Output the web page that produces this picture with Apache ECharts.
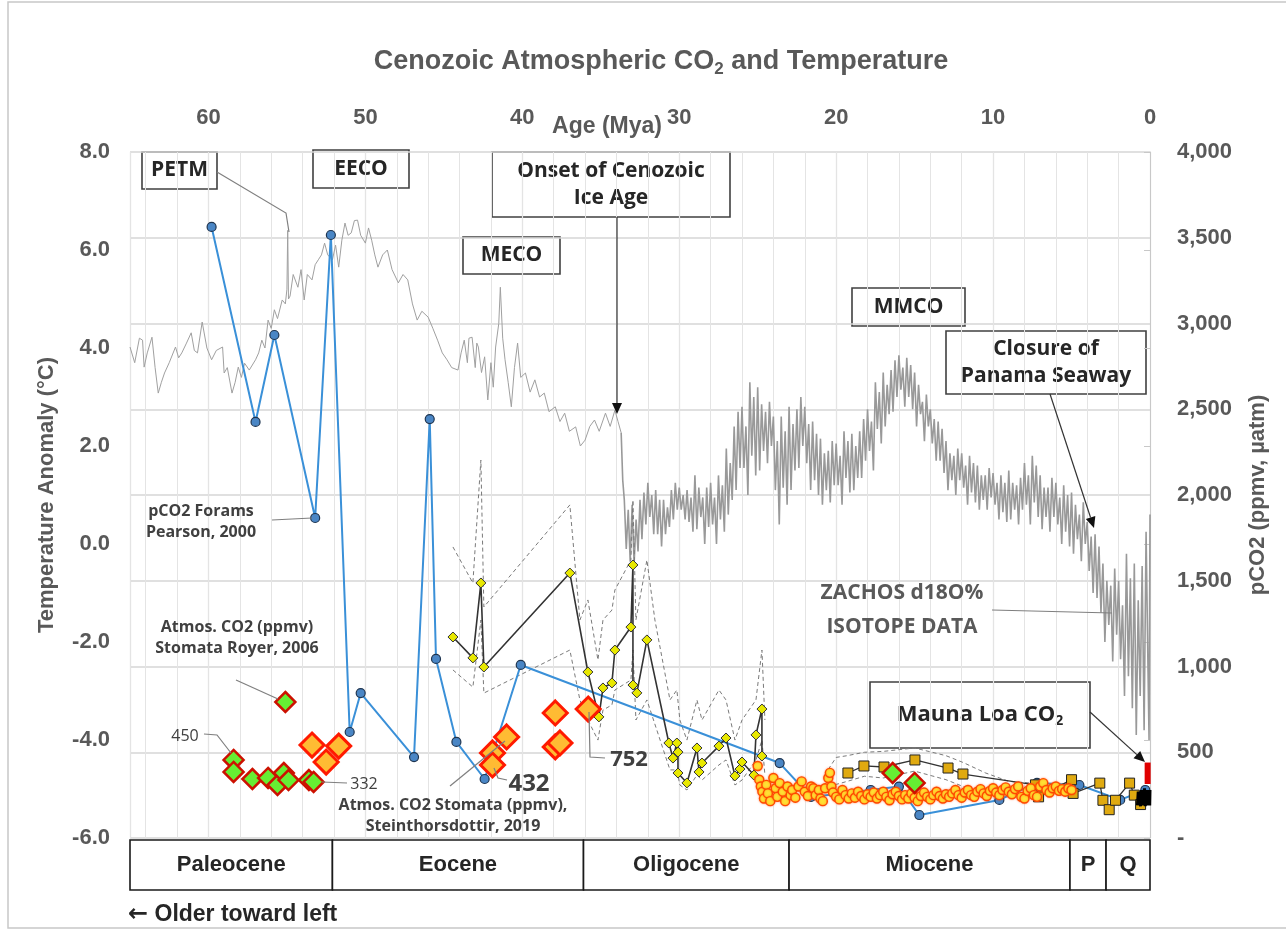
<!DOCTYPE html>
<html><head><meta charset="utf-8">
<script src="https://cdn.jsdelivr.net/npm/echarts@6/dist/echarts.min.js"></script>
<style>html,body{margin:0;padding:0;background:#fff}#c{width:1286px;height:931px}</style>
</head><body><div id="c"></div><script>
// ---------- DATA ----------
const epochNames = ['Paleocene','Eocene','Oligocene','Miocene','P','Q'];
const epochStart = [65, 52.1, 36.1, 23, 5.1, 2.8];
const epochEnd   = [52.1, 36.1, 23, 5.1, 2.8, 0];

// Zachos d18O-derived temperature anomaly, older part [age Mya, °C]
const zachosOld = [[65.0,4.02],[64.7,3.7],[64.4,4.2],[64.2,4.16],[64.1,3.61],[63.9,3.9],[63.6,4.22],[63.4,3.6],[63.2,3.08],[63.0,3.3],[62.8,3.49],[62.5,3.7],[62.1,4.02],[61.9,3.8],[61.7,3.90],[61.4,4.1],[61.1,4.31],[60.9,3.95],[60.7,3.90],[60.4,4.53],[60.1,4.0],[59.8,3.76],[59.5,3.95],[59.1,4.02],[59.0,3.49],[58.8,3.6],[58.5,3.08],[58.3,3.3],[58.1,3.61],[57.9,3.4],[57.7,3.69],[57.4,3.55],[57.0,3.76],[56.8,3.9],[56.6,4.16],[56.4,4.0],[56.2,4.57],[56.0,4.4],[55.8,4.78],[55.6,4.6],[55.3,4.98],[55.1,4.9],[55.0,5.2],[54.95,6.4],[54.9,5.0],[54.8,5.06],[54.6,5.5],[54.3,5.24],[54.1,5.6],[53.9,4.98],[53.7,5.5],[53.4,5.39],[53.2,5.7],[53.0,5.80],[52.8,5.9],[52.6,6.14],[52.4,5.9],[52.1,5.80],[51.9,6.1],[51.7,5.65],[51.5,6.2],[51.3,6.55],[51.1,6.3],[50.9,6.35],[50.7,6.6],[50.5,6.61],[50.3,6.3],[50.0,6.14],[49.8,6.45],[49.6,6.20],[49.4,5.9],[49.2,5.65],[48.9,5.9],[48.6,6.00],[48.3,5.6],[47.9,5.33],[47.6,5.5],[47.3,5.39],[47.0,4.9],[46.7,4.57],[46.4,4.75],[46.0,4.63],[45.7,4.4],[45.4,4.16],[45.1,3.9],[44.8,3.76],[44.5,3.6],[44.1,3.55],[43.9,3.9],[43.7,4.16],[43.5,3.7],[43.4,4.2],[43.2,4.22],[43.0,3.6],[42.9,4.1],[42.8,4.02],[42.6,3.5],[42.4,3.82],[42.2,2.94],[42.0,3.7],[41.85,3.2],[41.7,4.02],[41.5,4.5],[41.4,5.24],[41.25,4.2],[41.1,3.76],[40.9,3.3],[40.7,2.80],[40.5,3.6],[40.3,4.10],[40.1,3.4],[39.8,3.49],[39.5,3.1],[39.2,3.35],[38.9,3.0],[38.6,3.08],[38.3,2.7],[37.9,2.80],[37.6,2.5],[37.3,2.67],[37.0,2.3],[36.6,2.39],[36.3,2.0],[36.0,2.12],[35.7,2.4],[35.4,2.53],[35.1,2.3],[34.7,2.67],[34.4,2.4],[34.1,2.73],[33.9,2.5],[33.7,2.27]];
// Zachos, Oligocene to present (dense, noisy record) [age Mya, °C]
const zachosYoung = [[33.7,2.27],[33.6,1.3],[33.5,0.9],[33.375,-0.1],[33.25,0.7],[33.125,-0.35],[33.0,0.8],[32.875,-0.4],[32.75,0.5],[32.625,-0.15],[32.5,0.9],[32.375,0.1],[32.25,1.05],[32.125,0.4],[32.0,1.25],[31.875,0.55],[31.75,1.0],[31.625,0.2],[31.5,1.1],[31.375,0.2],[31.25,0.9],[31.125,-0.05],[31.0,0.9],[30.875,0.2],[30.75,0.75],[30.625,0.35],[30.5,1.1],[30.375,0.5],[30.25,1.25],[30.125,0.7],[30.0,1.15],[29.875,0.7],[29.75,1.0],[29.625,0.5],[29.5,1.1],[29.375,0.45],[29.25,0.95],[29.125,0.25],[29.0,1.4],[28.875,0.3],[28.75,1.15],[28.625,0.55],[28.5,0.95],[28.375,0.0],[28.25,1.15],[28.125,0.35],[28.0,1.25],[27.875,0.4],[27.75,0.95],[27.625,0.0],[27.5,1.4],[27.375,0.5],[27.25,1.2],[27.125,0.25],[27.0,1.95],[26.875,0.6],[26.75,1.65],[26.625,0.9],[26.5,2.4],[26.375,1.1],[26.25,2.7],[26.125,1.55],[26.0,2.8],[25.875,1.55],[25.75,2.4],[25.625,1.0],[25.5,3.3],[25.375,1.8],[25.25,3.0],[25.125,1.4],[25.0,3.2],[24.875,1.5],[24.75,2.85],[24.625,1.9],[24.5,2.7],[24.375,1.65],[24.25,2.9],[24.125,2.0],[24.0,2.6],[23.875,1.1],[23.75,2.1],[23.625,0.4],[23.5,2.6],[23.375,1.15],[23.25,2.3],[23.125,0.8],[23.0,2.8],[22.875,1.1],[22.75,2.45],[22.625,1.5],[22.5,2.75],[22.375,1.55],[22.25,3.0],[22.125,2.0],[22.0,2.8],[21.875,1.65],[21.75,2.45],[21.625,1.1],[21.5,2.5],[21.375,1.3],[21.25,2.25],[21.125,1.0],[21.0,2.15],[20.875,0.8],[20.75,1.85],[20.625,1.1],[20.5,1.9],[20.375,0.85],[20.25,2.1],[20.125,1.2],[20.0,2.05],[19.875,1.2],[19.75,1.8],[19.625,0.8],[19.5,2.3],[19.375,1.35],[19.25,2.1],[19.125,1.05],[19.0,2.25],[18.875,1.1],[18.75,2.0],[18.625,1.35],[18.5,2.3],[18.375,1.35],[18.25,2.55],[18.125,1.7],[18.0,2.75],[17.875,1.9],[17.75,2.5],[17.625,1.5],[17.5,3.3],[17.375,2.35],[17.25,3.1],[17.125,2.05],[17.0,3.5],[16.875,2.4],[16.75,3.25],[16.625,2.65],[16.5,3.55],[16.375,2.7],[16.25,3.75],[16.125,3.0],[16.0,3.85],[15.875,3.15],[15.75,3.6],[15.625,2.8],[15.5,3.8],[15.375,3.0],[15.25,3.65],[15.125,2.75],[15.0,3.5],[14.875,2.4],[14.75,3.25],[14.625,2.65],[14.5,2.9],[14.375,2.1],[14.25,3.05],[14.125,2.4],[14.0,2.75],[13.875,2.05],[13.75,2.55],[13.625,1.7],[13.5,2.5],[13.375,1.7],[13.25,2.35],[13.125,1.45],[13.0,2.1],[12.875,1.1],[12.75,1.85],[12.625,1.3],[12.5,1.8],[12.375,1.0],[12.25,1.95],[12.125,1.3],[12.0,1.85],[11.875,1.15],[11.75,1.6],[11.625,0.8],[11.5,1.8],[11.375,1.05],[11.25,1.65],[11.125,0.85],[11.0,1.6],[10.875,0.7],[10.75,1.4],[10.625,0.9],[10.5,1.4],[10.375,0.7],[10.25,1.55],[10.125,0.95],[10.0,1.45],[9.875,0.8],[9.75,1.25],[9.625,0.5],[9.5,1.4],[9.375,0.65],[9.25,1.25],[9.125,0.45],[9.0,1.5],[8.875,0.5],[8.75,1.25],[8.625,0.7],[8.5,1.2],[8.375,0.4],[8.25,1.35],[8.125,0.7],[8.0,1.65],[7.875,0.8],[7.75,1.4],[7.625,0.4],[7.5,1.8],[7.375,0.85],[7.25,1.6],[7.125,0.55],[7.0,1.4],[6.875,0.3],[6.75,1.15],[6.625,0.55],[6.5,1.15],[6.375,0.25],[6.25,1.35],[6.125,0.55],[6.0,1.25],[5.875,0.4],[5.75,0.95],[5.625,0.0],[5.5,1.2],[5.375,0.25],[5.25,1.0],[5.125,-0.05],[5.0,1.05],[4.875,-0.2],[4.75,0.8],[4.625,0.1],[4.5,0.6],[4.375,-0.35],[4.25,0.85],[4.125,0.0],[4.0,0.45],[3.875,-0.55],[3.75,0.15],[3.625,-1.0],[3.5,0.2],[3.375,-1.1],[3.25,-0.05],[3.125,-1.4],[3.0,-0.4],[2.875,-2.0],[2.75,-0.75],[2.625,-1.65],[2.5,-0.85],[2.375,-2.4],[2.25,-0.5],[2.125,-1.85],[2.0,-0.75],[1.875,-2.35],[1.75,-1.25],[1.625,-3.1],[1.5,-0.2],[1.375,-2.7],[1.25,-0.7],[1.125,-3.35],[1.0,-0.4],[0.875,-3.9],[0.75,-1.15],[0.625,-3.1],[0.5,-0.45],[0.375,-3.8],[0.25,0.25],[0.125,-2.6],[0.06,-4.0],[0.0,0.6]];

// pCO2 forams, Pearson 2000 [age, ppmv]
const pearson = [[59.8,3563],[57.0,2426],[55.8,2933],[53.2,1866],[52.2,3516],[51.0,618],[50.3,845],[46.9,472],[45.9,2443],[45.5,1044],[44.2,560],[42.4,344],[40.1,1009],[23.6,437],[21.6,239],[17.8,280],[16.0,300],[14.7,134],[9.6,222],[7.2,321],[4.5,309],[1.9,222],[0.3,280]];

// Proxy CO2 with yellow diamonds [age, ppmv] and its dashed bounds
const proxyCO2 = [[44.42,1172],[43.15,1050],[42.64,1487],[42.45,997],[36.97,1545],[35.82,968],[35.12,706],[34.86,875],[34.29,904],[34.10,1096],[33.08,1230],[32.95,1592],[32.95,892],[32.70,846],[32.06,1155],[30.66,554],[30.40,466],[30.15,554],[30.08,501],[30.08,379],[29.51,321],[28.87,525],[28.74,385],[28.55,437],[27.47,536],[27.02,583],[26.45,362],[26.13,402],[26.00,443],[25.24,367],[25.11,601],[24.73,752],[24.73,478]];
const proxyUpper = [[44.42,1697],[43.15,1487],[42.64,2204],[42.45,1347],[36.97,1942],[36.33,1271],[35.82,1388],[35.18,1038],[34.86,1271],[34.29,1329],[34.10,1446],[33.08,1621],[32.95,1971],[32.76,1271],[32.06,1621],[31.55,1271],[30.59,805],[30.15,863],[29.96,688],[29.51,571],[28.87,805],[28.55,688],[27.47,863],[27.02,805],[26.45,571],[26.00,688],[25.11,805],[24.73,1096],[24.54,688]];
const proxyLower = [[44.42,980],[43.15,880],[42.64,1271],[42.45,845],[36.97,1096],[36.33,805],[35.82,688],[35.18,571],[34.86,746],[34.29,776],[34.10,863],[33.08,921],[32.95,1096],[32.76,688],[32.06,805],[30.59,397],[30.15,397],[29.96,309],[29.51,280],[28.87,367],[28.55,338],[27.47,426],[27.02,455],[26.45,309],[26.00,338],[25.11,455],[24.73,571],[24.54,367]];

// Miocene–Quaternary proxy with yellow squares [age, ppmv]
const squares = [[19.25,379],[18.23,420],[16.95,414],[14.98,455],[12.87,408],[11.92,373],[7.3,310],[7.1,240],[5.0,340],[4.9,260],[3.2,320],[3.0,220],[2.6,165],[2.2,220],[1.3,320],[1.0,250],[0.6,195]];
const squaresUpper = [[20.5,400],[20.0,470],[19.3,480],[18.2,500],[17.0,505],[15.0,525],[13.0,480],[11.9,440],[10.5,380],[9.0,330],[7.5,320]];
const squaresLower = [[20.5,300],[19.3,330],[18.2,360],[17.0,350],[15.0,390],[13.0,340],[11.9,300],[10.5,260],[9.0,240],[7.5,230]];

// Alkenone-type CO2 (orange circles) [age, ppmv]
const alkenone = [[25.0,420],[24.9,340],[24.8,300],[24.7,270],[24.6,230],[24.45,310],[24.35,260],[24.2,215],[24.0,350],[23.85,290],[23.75,240],[23.6,320],[23.4,270],[23.25,215],[23.1,300],[22.9,250],[22.8,280],[22.6,235],[22.4,300],[22.2,330],[22.0,270],[21.8,245],[21.6,300],[21.45,290],[21.3,250],[21.1,280],[21.0,230],[20.85,215],[20.7,290],[20.5,350],[20.4,380],[20.3,300],[20.2,265],[20.0,240],[19.8,225],[19.6,280],[19.4,250],[19.2,230],[19.0,260],[18.8,235],[18.6,270],[18.4,245],[18.2,225],[18.0,255],[17.8,240],[17.6,265],[17.4,230],[17.2,250],[17.0,270],[16.8,240],[16.6,220],[16.4,255],[16.2,270],[16.0,245],[15.8,225],[15.6,250],[15.4,230],[15.2,260],[15.0,235],[14.8,215],[14.6,245],[14.4,265],[14.2,240],[14.0,225],[13.8,250],[13.6,270],[13.4,245],[13.2,230],[13.0,255],[12.8,240],[12.6,260],[12.4,280],[12.2,250],[12.0,235],[11.8,265],[11.6,280],[11.4,250],[11.2,240],[11.0,270],[10.8,285],[10.6,260],[10.4,245],[10.2,275],[10.0,290],[9.8,265],[9.6,250],[9.4,280],[9.2,295],[9.0,270],[8.8,255],[8.6,285],[8.4,300],[8.2,240],[8.0,230],[7.8,275],[7.6,290],[7.4,250],[7.2,240],[7.0,300],[6.8,320],[6.6,280],[6.4,265],[6.2,290],[6.0,300],[5.8,275],[5.6,285],[5.4,270],[5.2,290],[5.0,280]];

// Stomata, Royer 2006 (green diamonds) [age, ppmv]
const royer = [[58.4,455],[58.4,385],[57.2,344],[56.2,350],[55.6,309],[55.2,379],[54.9,338],[53.6,338],[53.3,327],[55.1,793],[16.4,379],[15.0,321]];
// Stomata, Steinthorsdottir 2019 (orange diamonds) [age, ppmv]
const stein = [[53.4,542],[51.7,536],[52.5,443],[41.0,589],[41.9,496],[41.9,426],[37.9,729],[37.9,531],[37.6,554],[35.8,752]];
// Ice core CO2 [age, ppmv]
const iceCore = [[0.8,190],[0.75,270],[0.7,200],[0.65,250],[0.6,185],[0.55,280],[0.5,200],[0.45,260],[0.4,190],[0.35,290],[0.3,185],[0.25,270],[0.2,190],[0.15,280],[0.1,190],[0.05,270],[0.02,190],[0.0,280]];
// Mauna Loa CO2 [age, ppmv]
const maunaLoa = [[0.15,315],[0.15,440]];

// ---------- CHART ----------
const F = "'Open Sans', 'Liberation Sans', sans-serif";
const FN = "'Liberation Sans', 'Open Sans', sans-serif";
const GRAY = '#595959';

const chart = echarts.init(document.getElementById('c'), null, {renderer:'canvas', width:1286, height:931});

function boxG(x,y,w,h,text,fs,rich){
  return {type:'group', z:100, children:[
    {type:'rect', shape:{x:x,y:y,width:w,height:h}, style:{fill:'#fff', stroke:'#404040', lineWidth:1.6}},
    {type:'text', style:{x:x+w/2, y:y+h/2, text:text, align:'center', verticalAlign:'middle', fontFamily:F, fontWeight:'bold', fontSize:fs, fill:'#262626', lineHeight:Math.round(fs*1.3), rich:rich||{}}}
  ]};
}
function txt(x,y,text,fs,opts){
  opts = opts||{};
  return {type:'text', z:100, style:Object.assign({x:x,y:y,text:text,align:'center',verticalAlign:'middle',fontFamily:F,fontWeight:'bold',fontSize:fs,fill:'#404040',lineHeight:Math.round(fs*1.4)}, opts)};
}
function leader(pts,color){
  return {type:'polyline', z:99, shape:{points:pts}, style:{stroke:color||'#7f7f7f', lineWidth:1.2, fill:null}};
}
function arrow(x1,y1,x2,y2){
  const dx=x2-x1, dy=y2-y1, L=Math.sqrt(dx*dx+dy*dy), ux=dx/L, uy=dy/L, hl=11, hw=5;
  const bx=x2-ux*hl, by=y2-uy*hl;
  return [
    {type:'line', z:99, shape:{x1:x1,y1:y1,x2:bx,y2:by}, style:{stroke:'#333', lineWidth:1.2}},
    {type:'polygon', z:99, shape:{points:[[x2,y2],[bx-uy*hw,by+ux*hw],[bx+uy*hw,by-ux*hw]]}, style:{fill:'#111'}}
  ];
}
const subRich = (fs)=>({s:{fontSize:Math.round(fs*0.65), fontFamily:F, fontWeight:'bold', fill:'#262626', padding:[Math.round(fs*0.55),0,0,0]}});

const graphics = [
  {type:'rect', z:0, silent:true, shape:{x:8,y:2,width:1300,height:926}, style:{fill:null, stroke:'#c8c8c8', lineWidth:1.5}},
  {type:'text', z:100, style:{x:661, y:62, text:'Cenozoic Atmospheric CO{s|2} and Temperature', align:'center', verticalAlign:'middle', fontFamily:FN, fontWeight:'bold', fontSize:27, fill:GRAY,
     rich:{s:{fontSize:17, fontFamily:FN, fontWeight:'bold', fill:GRAY, padding:[15,0,0,0]}}}},
  {type:'text', z:100, style:{x:607, y:127, text:'Age (Mya)', align:'center', verticalAlign:'middle', fontFamily:FN, fontWeight:'bold', fontSize:23, fill:GRAY}},
  {type:'text', z:100, style:{x:128, y:915, text:'{a|\u2190} Older toward left', align:'left', verticalAlign:'middle', fontFamily:FN, fontWeight:'bold', fontSize:23, fill:'#262626',
     rich:{a:{fontFamily:"'DejaVu Sans', sans-serif", fontWeight:'bold', fontSize:24, fill:'#262626'}}}},
  boxG(142,152,75,37,'PETM',21),
  boxG(313,150,96,38,'EECO',21),
  boxG(492,152,238,65,'Onset of Cenozoic\nIce Age',21),
  boxG(463,237,97,37,'MECO',21),
  boxG(852,288,113,38,'MMCO',21),
  boxG(946,331,200,63,'Closure of\nPanama Seaway',21),
  boxG(870,682,220,66,'Mauna Loa CO{s|2}',22,subRich(22)),
  leader([[217,172],[286,213],[289,232]]),
  ...arrow(617,217,617,414),
  ...arrow(1050,394,1094,528),
  ...arrow(1090,712,1145,762),
  leader([[992,610],[1112,613]]),
  txt(902,610,'ZACHOS d18O%\nISOTOPE DATA',21,{fill:GRAY, lineHeight:34}),
  txt(201,522,'pCO2 Forams\nPearson, 2000',16,{lineHeight:21}),
  leader([[272,520],[312,518]]),
  txt(237,638,'Atmos. CO2 (ppmv)\nStomata Royer, 2006',16,{lineHeight:21}),
  leader([[236,680],[278,699]]),
  txt(185,736,'450',16,{fontWeight:'normal'}),
  leader([[204,734],[217,735],[231,753]]),
  txt(364,784,'332',16,{fontWeight:'normal'}),
  leader([[322,782],[347,783]]),
  txt(529,784,'432',24),
  leader([[494,768],[498,778],[507,780]]),
  txt(629,760,'752',22),
  leader([[589,712],[590,757],[605,758]]),
  txt(453,816,'Atmos. CO2 Stomata (ppmv),\nSteinthorsdottir, 2019',16,{lineHeight:21}),
  leader([[450,786],[505,741]])
];

const option = {
  animation:false,
  backgroundColor:'#fff',
  grid:[
    {left:130, right:136, top:152, bottom:93, containLabel:false},
    {left:130, right:136, top:840, height:50, containLabel:false}
  ],
  xAxis:[
    {type:'value', gridIndex:0, position:'top', min:0, max:65, interval:10, inverse:true,
     axisLine:{show:false}, axisTick:{show:false},
     axisLabel:{color:GRAY, fontSize:22, fontFamily:FN, fontWeight:'bold', margin:23, showMaxLabel:false},
     splitLine:{show:true, lineStyle:{color:'#d6d6d6', width:1.2}}},
    {type:'value', gridIndex:0, position:'top', min:0, max:65, interval:2, inverse:true,
     axisLine:{show:false}, axisTick:{show:false}, axisLabel:{show:false},
     splitLine:{show:true, lineStyle:{color:'#e4e4e4', width:1}}},
    {type:'value', gridIndex:1, min:0, max:65, inverse:true, show:false}
  ],
  yAxis:[
    {type:'value', gridIndex:0, position:'left', min:-6, max:8, interval:2,
     name:'Temperature Anomaly (\u00b0C)', nameLocation:'middle', nameGap:72, nameRotate:90,
     nameTextStyle:{color:GRAY, fontSize:22, fontFamily:FN, fontWeight:'bold'},
     axisLine:{show:true, lineStyle:{color:'#c8c8c8'}}, axisTick:{show:true, length:6, lineStyle:{color:'#c8c8c8'}},
     axisLabel:{color:GRAY, fontSize:22, fontFamily:FN, fontWeight:'bold', margin:20, formatter:v=>v.toFixed(1)},
     splitLine:{show:false}},
    {type:'value', gridIndex:0, position:'right', min:0, max:4000, interval:500,
     name:'pCO2 (ppmv, \u00b5atm)', nameLocation:'middle', nameGap:97, nameRotate:90,
     nameTextStyle:{color:GRAY, fontSize:22, fontFamily:FN, fontWeight:'bold'},
     axisLine:{show:false}, axisTick:{show:false},
     axisLabel:{color:GRAY, fontSize:22, fontFamily:FN, fontWeight:'bold', margin:27, formatter:v=>v===0?'-':v.toLocaleString('en-US')},
     splitLine:{show:true, lineStyle:{color:'#d6d6d6', width:1.5}}},
    {type:'value', gridIndex:1, min:0, max:1, show:false}
  ],
  graphic: graphics,
  series:[
    {type:'line', name:'Zachos old', data:zachosOld, yAxisIndex:0, symbol:'none', lineStyle:{color:'#a0a0a0', width:1}, z:1},
    {type:'line', name:'Zachos young', data:zachosYoung, yAxisIndex:0, symbol:'none', lineStyle:{color:'#999999', width:1.6}, z:1},
    {type:'line', data:proxyUpper, yAxisIndex:1, symbol:'none', lineStyle:{color:'#7a7a7a', width:1, type:[4,3]}, z:2},
    {type:'line', data:proxyLower, yAxisIndex:1, symbol:'none', lineStyle:{color:'#7a7a7a', width:1, type:[4,3]}, z:2},
    {type:'line', data:squaresUpper, yAxisIndex:1, symbol:'none', lineStyle:{color:'#7a7a7a', width:1, type:[4,3]}, z:2},
    {type:'line', data:squaresLower, yAxisIndex:1, symbol:'none', lineStyle:{color:'#7a7a7a', width:1, type:[4,3]}, z:2},
    {type:'line', data:pearson, yAxisIndex:1, symbol:'circle', symbolSize:9, lineStyle:{color:'#3a90d8', width:2}, itemStyle:{color:'#4a86c5', borderColor:'#1f3550', borderWidth:1.2}, z:3},
    {type:'line', data:proxyCO2, yAxisIndex:1, symbol:'diamond', symbolSize:10, lineStyle:{color:'#333', width:1.6}, itemStyle:{color:'#e8e800', borderColor:'#333', borderWidth:1}, z:4},
    {type:'line', data:squares, yAxisIndex:1, symbol:'rect', symbolSize:10, lineStyle:{color:'#333', width:1.3}, itemStyle:{color:'#e0aa10', borderColor:'#222', borderWidth:1}, z:5},
    {type:'scatter', data:alkenone, yAxisIndex:1, symbolSize:9, itemStyle:{color:'#ffe033', borderColor:'#ff4a00', borderWidth:1.4, shadowBlur:2, shadowColor:'rgba(255,80,0,0.5)', opacity:1}, z:6},
    {type:'line', data:iceCore, yAxisIndex:1, symbol:'none', lineStyle:{color:'#000', width:3}, z:7},
    {type:'line', data:maunaLoa, yAxisIndex:1, symbol:'none', lineStyle:{color:'#e00000', width:6}, z:8},
    {type:'scatter', data:royer, yAxisIndex:1, symbol:'diamond', symbolSize:20, itemStyle:{color:'#66ee33', borderColor:'#cc1100', borderWidth:2.5, opacity:1}, z:9},
    {type:'scatter', data:stein, yAxisIndex:1, symbol:'diamond', symbolSize:24, itemStyle:{color:'#ffbb33', borderColor:'#ff1a00', borderWidth:3, opacity:1}, z:9},
    {type:'custom', xAxisIndex:2, yAxisIndex:2, z:10,
     data: epochStart.map((s,i)=>[s, epochEnd[i]]),
     renderItem:function(params, api){
       const a = api.coord([api.value(0), 0]);
       const b = api.coord([api.value(1), 1]);
       const x = Math.min(a[0], b[0]), w = Math.abs(b[0]-a[0]);
       const y = b[1], h = a[1]-b[1];
       return {type:'group', children:[
         {type:'rect', shape:{x:x, y:y, width:w, height:h}, style:{fill:'#fff', stroke:'#1a1a1a', lineWidth:1.6}},
         {type:'text', style:{x:x+w/2, y:y+h/2, text:epochNames[params.dataIndex], align:'center', verticalAlign:'middle', fontFamily:FN, fontWeight:'bold', fontSize:22, fill:'#262626'}}
       ]};
     }}
  ]
};
chart.setOption(option);
</script></body></html>
